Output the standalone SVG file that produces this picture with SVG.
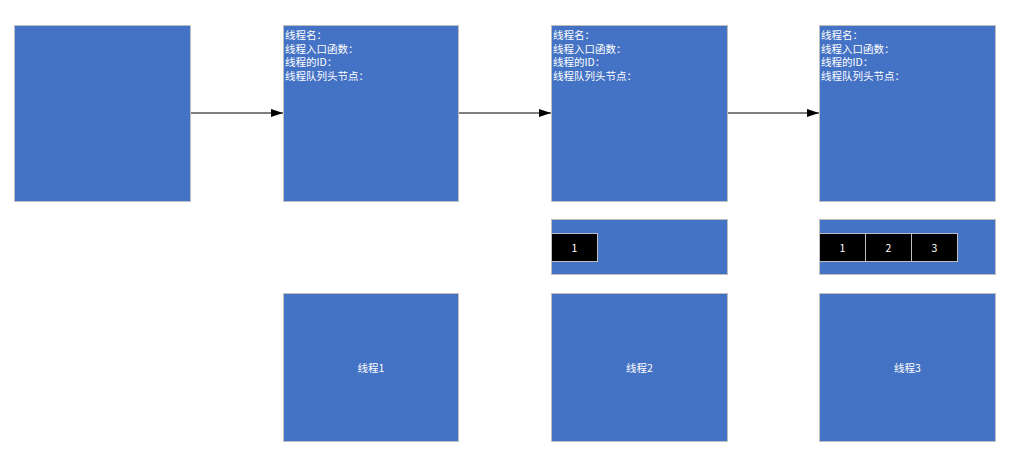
<svg xmlns="http://www.w3.org/2000/svg" width="1025" height="467" viewBox="0 0 1025 467">
<style>
.box{fill:#4472C4;stroke:#BFBFBF;stroke-width:1}
.cell{fill:#000;stroke:#BFBFBF;stroke-width:1}
.t{font-family:"Noto Sans CJK SC","Liberation Sans",sans-serif;font-size:10.5px;fill:#fff}
.c{text-anchor:middle;dominant-baseline:central}
.conn{stroke:#000;stroke-width:1.2;fill:none;marker-end:url(#ah)}
</style>
<defs>
<marker id="ah" viewBox="0 0 10 10" refX="10" refY="5" markerWidth="12" markerHeight="8" markerUnits="userSpaceOnUse" orient="auto" preserveAspectRatio="none"><path d="M0,0 L10,5 L0,10 Z" fill="#000"/></marker>
</defs>
<rect width="1025" height="467" fill="#fff"/>
<g id="head"><rect class="box" x="14.5" y="25.5" width="176" height="176"/></g>
<g id="t1info"><rect class="box" x="283.5" y="25.5" width="175" height="176"/>
<text class="t" x="285" y="39">线程名：</text><text class="t" x="285" y="52.5">线程入口函数：</text><text class="t" x="285" y="66">线程的ID：</text><text class="t" x="285" y="79.5">线程队列头节点：</text></g>
<g id="t2info"><rect class="box" x="551.5" y="25.5" width="176" height="176"/>
<text class="t" x="553" y="39">线程名：</text><text class="t" x="553" y="52.5">线程入口函数：</text><text class="t" x="553" y="66">线程的ID：</text><text class="t" x="553" y="79.5">线程队列头节点：</text></g>
<g id="t3info"><rect class="box" x="819.5" y="25.5" width="176" height="176"/>
<text class="t" x="821" y="39">线程名：</text><text class="t" x="821" y="52.5">线程入口函数：</text><text class="t" x="821" y="66">线程的ID：</text><text class="t" x="821" y="79.5">线程队列头节点：</text></g>
<g id="q2"><rect class="box" x="551.5" y="219.5" width="176" height="55"/>
<rect class="cell" x="551.5" y="233.5" width="46" height="28"/><text class="t c" x="574.5" y="247.5">1</text></g>
<g id="q3"><rect class="box" x="819.5" y="219.5" width="176" height="55"/>
<rect class="cell" x="819.5" y="233.5" width="46" height="28"/><text class="t c" x="842.5" y="247.5">1</text>
<rect class="cell" x="865.5" y="233.5" width="46" height="28"/><text class="t c" x="888.5" y="247.5">2</text>
<rect class="cell" x="911.5" y="233.5" width="46" height="28"/><text class="t c" x="934.5" y="247.5">3</text></g>
<g id="th1"><rect class="box" x="283.5" y="293.5" width="175" height="148"/><text class="t c" x="371" y="367">线程1</text></g>
<g id="th2"><rect class="box" x="551.5" y="293.5" width="176" height="148"/><text class="t c" x="639.5" y="367">线程2</text></g>
<g id="th3"><rect class="box" x="819.5" y="293.5" width="176" height="148"/><text class="t c" x="907.5" y="367">线程3</text></g>
<g id="connectors">
<line class="conn" x1="191" y1="113" x2="283" y2="113"/>
<line class="conn" x1="459" y1="113" x2="551" y2="113"/>
<line class="conn" x1="728" y1="113" x2="819" y2="113"/>
</g>
</svg>
